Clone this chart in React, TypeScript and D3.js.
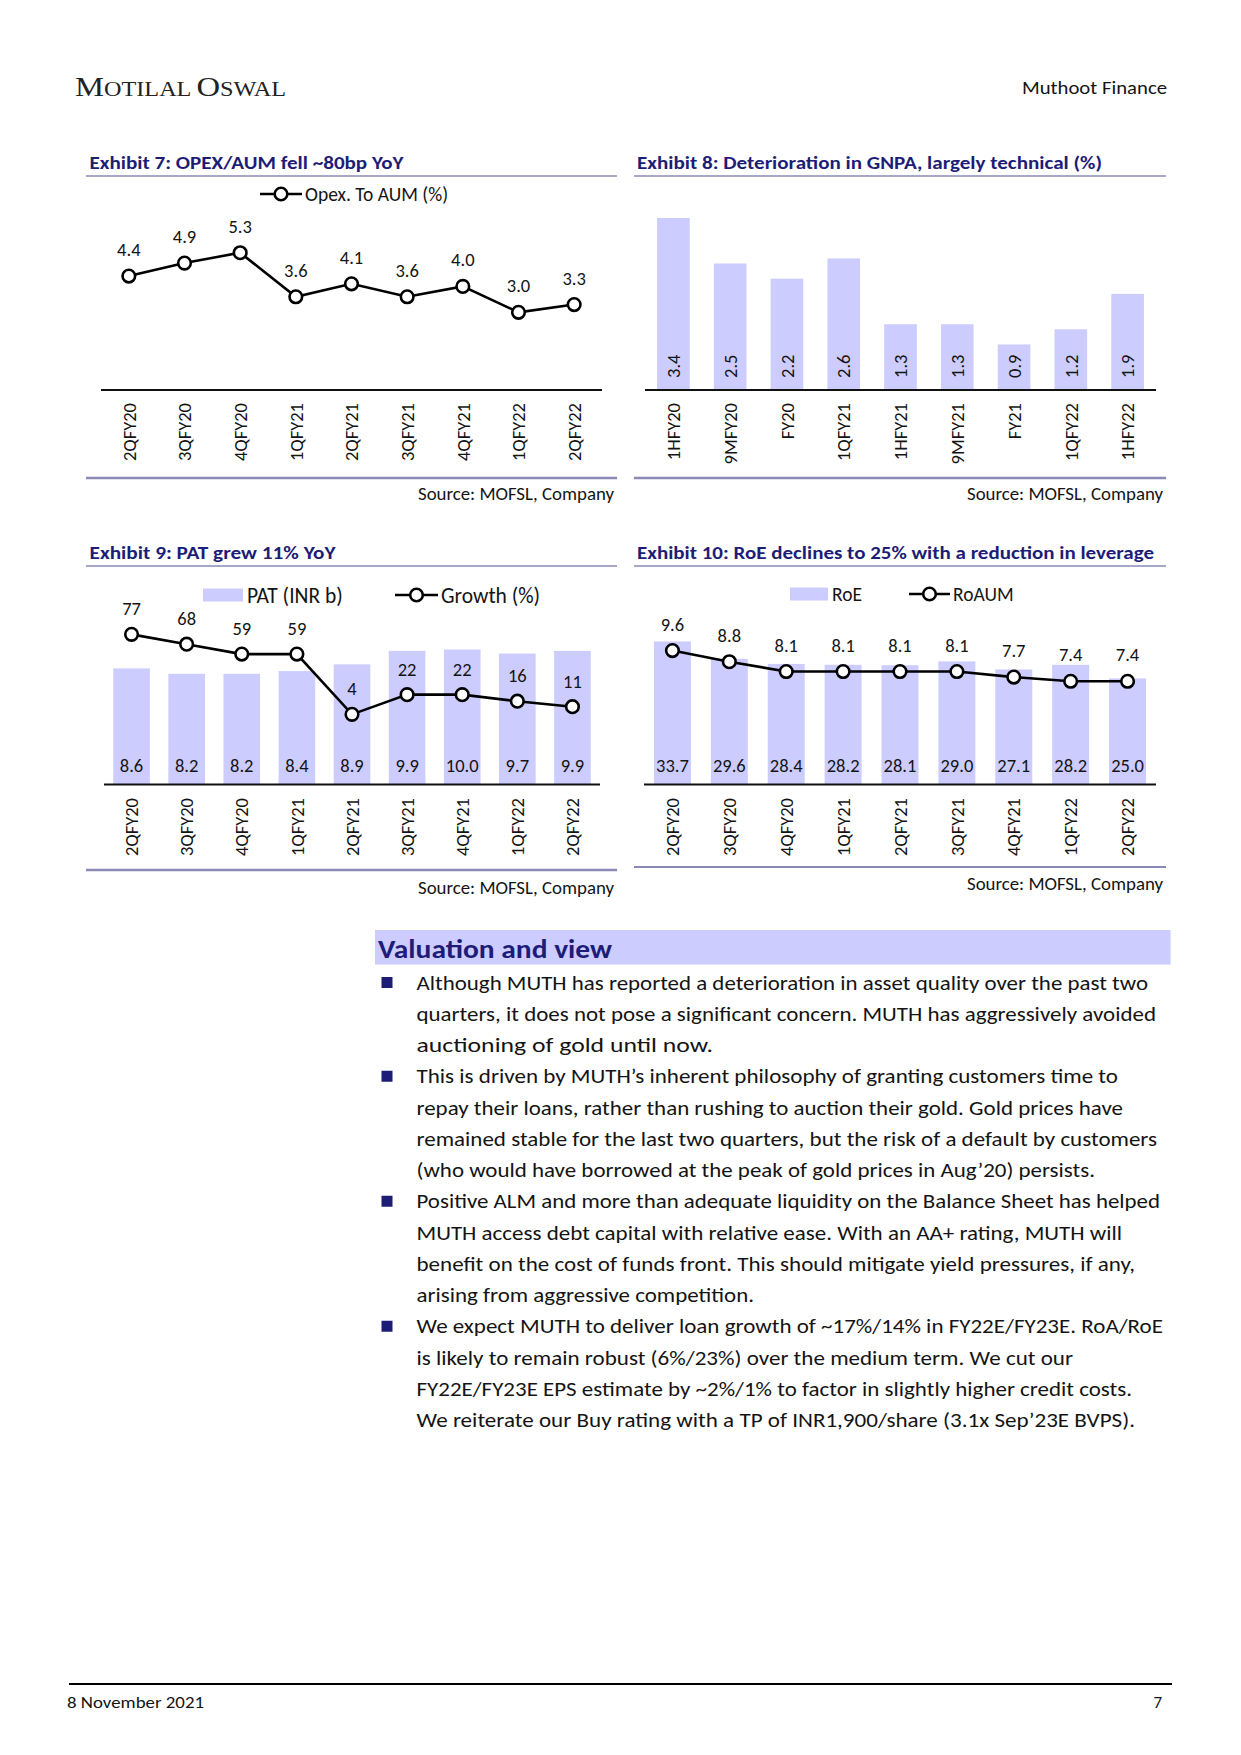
import React from 'react';
import * as d3 from 'd3';

// ---------- data ----------
const quarters = ['2QFY20', '3QFY20', '4QFY20', '1QFY21', '2QFY21', '3QFY21', '4QFY21', '1QFY22', '2QFY22'];
const opexToAum = [4.4, 4.9, 5.3, 3.6, 4.1, 3.6, 4.0, 3.0, 3.3];

const gnpaPeriods = ['1HFY20', '9MFY20', 'FY20', '1QFY21', '1HFY21', '9MFY21', 'FY21', '1QFY22', '1HFY22'];
const gnpa = [3.4, 2.5, 2.2, 2.6, 1.3, 1.3, 0.9, 1.2, 1.9];

const pat = [8.6, 8.2, 8.2, 8.4, 8.9, 9.9, 10.0, 9.7, 9.9];
const patGrowth = [77, 68, 59, 59, 4, 22, 22, 16, 11];

const roe = [33.7, 29.6, 28.4, 28.2, 28.1, 29.0, 27.1, 28.2, 25.0];
const roaum = [9.6, 8.8, 8.1, 8.1, 8.1, 8.1, 7.7, 7.4, 7.4];

const bodyLines = [
  'Although MUTH has reported a deterioration in asset quality over the past two',
  'quarters, it does not pose a significant concern. MUTH has aggressively avoided',
  'auctioning of gold until now.',
  'This is driven by MUTH\u2019s inherent philosophy of granting customers time to',
  'repay their loans, rather than rushing to auction their gold. Gold prices have',
  'remained stable for the last two quarters, but the risk of a default by customers',
  '(who would have borrowed at the peak of gold prices in Aug\u201920) persists.',
  'Positive ALM and more than adequate liquidity on the Balance Sheet has helped',
  'MUTH access debt capital with relative ease. With an AA+ rating, MUTH will',
  'benefit on the cost of funds front. This should mitigate yield pressures, if any,',
  'arising from aggressive competition.',
  'We expect MUTH to deliver loan growth of ~17%/14% in FY22E/FY23E. RoA/RoE',
  'is likely to remain robust (6%/23%) over the medium term. We cut our',
  'FY22E/FY23E EPS estimate by ~2%/1% to factor in slightly higher credit costs.',
  'We reiterate our Buy rating with a TP of INR1,900/share (3.1x Sep\u201923E BVPS).',
];
const bulletLineIdx = [0, 3, 7, 11];

// layout (line right edges, px)
const bodyLineEnds = [1148, 1156, 713, 1118, 1123, 1157, 1095, 1160, 1122, 1135, 754, 1163, 1073, 1132, 1135];

// ---------- style ----------
const FONT = "Carlito, Calibri, Lato, 'Open Sans', sans-serif";
const NAVY = '#1d1d78';
const BAR = '#ccccff';
const RULE = '#8a8ab6';
const INK = '#141414';
const LBL = 18.5;

function fmt1(v: number) {
  return v.toFixed(1);
}

function XTicks({ x, labels, top }: { x: d3.ScaleBand<string>; labels: string[]; top: number }) {
  return (
    <g>
      {labels.map((l) => (
        <text
          key={l}
          transform={`translate(${(x(l) as number) + x.bandwidth() / 2},${top}) rotate(-90)`}
          textAnchor="end"
          dy="0.36em"
          fontSize={LBL}
          fill={INK}
        >
          {l}
        </text>
      ))}
    </g>
  );
}

function Marker({ cx, cy }: { cx: number; cy: number }) {
  return <circle cx={cx} cy={cy} r={6.3} fill="#fff" stroke="#000" strokeWidth={2.6} />;
}

function LegendLine({ x1, x2, y, label, fs }: { x1: number; x2: number; y: number; label: string; fs: number }) {
  return (
    <g>
      <line x1={x1} x2={x2} y1={y} y2={y} stroke="#000" strokeWidth={2.6} />
      <Marker cx={(x1 + x2) / 2} cy={y} />
      <text x={x2 + 3} y={y} dy="0.35em" fontSize={fs} fill={INK}>
        {label}
      </text>
    </g>
  );
}

function LegendBar({ x1, x2, y, label, fs }: { x1: number; x2: number; y: number; label: string; fs: number }) {
  return (
    <g>
      <rect x={x1} y={y - 6.5} width={x2 - x1} height={13} fill={BAR} />
      <text x={x2 + 4} y={y} dy="0.35em" fontSize={fs} fill={INK}>
        {label}
      </text>
    </g>
  );
}

function Title({ x, y, text, len, ulx1, ulx2, uly }: any) {
  return (
    <g>
      <text x={x} y={y} fontSize={18} fontWeight={700} fill={NAVY} textLength={len} lengthAdjust="spacingAndGlyphs">
        {text}
      </text>
      <line x1={ulx1} x2={ulx2} y1={uly} y2={uly} stroke={RULE} strokeWidth={1.6} />
    </g>
  );
}

function Footer({ x1, x2, y, srcY, w = 2.6 }: any) {
  return (
    <g>
      <line x1={x1} x2={x2} y1={y} y2={y} stroke={RULE} strokeWidth={w} />
      <text x={x2 - 3} y={srcY} textAnchor="end" fontSize={18} fill={INK} textLength={196} lengthAdjust="spacingAndGlyphs">
        Source: MOFSL, Company
      </text>
    </g>
  );
}

// Exhibit 7
function Exhibit7() {
  const x = d3.scaleBand<string>().domain(quarters).range([101, 602]);
  const y = d3.scaleLinear().domain([0, 6]).range([390, 390 - 6 * 25.9]);
  const cx = (i: number) => (x(quarters[i]) as number) + x.bandwidth() / 2;
  const line = d3
    .line<number>()
    .x((_, i) => cx(i))
    .y((d) => y(d));
  return (
    <g>
      <Title x={89.5} y={169} text="Exhibit 7: OPEX/AUM fell ~80bp YoY" len={314} ulx1={86} ulx2={617} uly={176} />
      <LegendLine x1={260} x2={302} y={194} label="Opex. To AUM (%)" fs={19.5} />
      <path d={line(opexToAum) as string} fill="none" stroke="#000" strokeWidth={2.6} />
      {opexToAum.map((v, i) => (
        <g key={i}>
          <Marker cx={cx(i)} cy={y(v)} />
          <text x={cx(i)} y={y(v) - 20} textAnchor="middle" fontSize={LBL} fill={INK}>
            {fmt1(v)}
          </text>
        </g>
      ))}
      <line x1={101} x2={602} y1={390} y2={390} stroke="#111" strokeWidth={2} />
      <XTicks x={x} labels={quarters} top={403} />
      <Footer x1={86} x2={617} y={478} srcY={500} />
    </g>
  );
}

// Exhibit 8
function Exhibit8() {
  const x = d3.scaleBand<string>().domain(gnpaPeriods).range([645, 1156]).paddingInner(0.425).paddingOuter(0.2125);
  const y = d3.scaleLinear().domain([0, 4]).range([390, 390 - 4 * 50.6]);
  return (
    <g>
      <Title x={637} y={169} text="Exhibit 8: Deterioration in GNPA, largely technical (%)" len={465} ulx1={634} ulx2={1166} uly={176} />
      {gnpa.map((v, i) => {
        const bx = x(gnpaPeriods[i]) as number;
        return (
          <g key={i}>
            <rect x={bx} y={y(v)} width={x.bandwidth()} height={390 - y(v)} fill={BAR} />
            <text
              transform={`translate(${bx + x.bandwidth() / 2},${378}) rotate(-90)`}
              textAnchor="start"
              dy="0.36em"
              fontSize={LBL}
              fill={INK}
            >
              {fmt1(v)}
            </text>
          </g>
        );
      })}
      <line x1={645} x2={1156} y1={390} y2={390} stroke="#111" strokeWidth={2} />
      <XTicks x={x} labels={gnpaPeriods} top={403} />
      <Footer x1={634} x2={1166} y={478} srcY={500} />
    </g>
  );
}

// Exhibit 9
function Exhibit9() {
  const base = 784.5;
  const x = d3.scaleBand<string>().domain(quarters).range([104, 600]).paddingInner(0.335).paddingOuter(0.1675);
  const yB = d3.scaleLinear().domain([0, 14]).range([base, base - 14 * 13.5]);
  const yL = d3.scaleLinear().domain([-60, 100]).range([base, base - 160 * 1.096]);
  const cx = (i: number) => (x(quarters[i]) as number) + x.bandwidth() / 2;
  const line = d3
    .line<number>()
    .x((_, i) => cx(i))
    .y((d) => yL(d));
  return (
    <g>
      <Title x={89.5} y={559} text="Exhibit 9: PAT grew 11% YoY" len={246} ulx1={86} ulx2={617} uly={566} />
      <LegendBar x1={203} x2={243} y={595} label="PAT (INR b)" fs={21.5} />
      <LegendLine x1={395} x2={438} y={595} label="Growth (%)" fs={21.5} />
      {pat.map((v, i) => (
        <g key={i}>
          <rect x={x(quarters[i])} y={yB(v)} width={x.bandwidth()} height={base - yB(v)} fill={BAR} />
          <text x={cx(i)} y={771.5} textAnchor="middle" fontSize={LBL} fill={INK}>
            {fmt1(v)}
          </text>
        </g>
      ))}
      <path d={line(patGrowth) as string} fill="none" stroke="#000" strokeWidth={2.6} />
      {patGrowth.map((v, i) => (
        <g key={i}>
          <Marker cx={cx(i)} cy={yL(v)} />
          <text x={cx(i)} y={yL(v) - 19} textAnchor="middle" fontSize={LBL} fill={INK}>
            {v}
          </text>
        </g>
      ))}
      <line x1={104} x2={600} y1={base} y2={base} stroke="#111" strokeWidth={2} />
      <XTicks x={x} labels={quarters} top={798} />
      <Footer x1={86} x2={617} y={870} srcY={894} />
    </g>
  );
}

// Exhibit 10
function Exhibit10() {
  const base = 784.5;
  const x = d3.scaleBand<string>().domain(quarters).range([644, 1156]).paddingInner(0.35).paddingOuter(0.175);
  const yB = d3.scaleLinear().domain([0, 40]).range([base, base - 40 * 4.245]);
  const yL = d3.scaleLinear().domain([0, 12]).range([base, base - 12 * 13.95]);
  const cx = (i: number) => (x(quarters[i]) as number) + x.bandwidth() / 2;
  const line = d3
    .line<number>()
    .x((_, i) => cx(i))
    .y((d) => yL(d));
  return (
    <g>
      <Title x={637} y={559} text="Exhibit 10: RoE declines to 25% with a reduction in leverage" len={517} ulx1={634} ulx2={1166} uly={566} />
      <LegendBar x1={790} x2={828} y={594} label="RoE" fs={19.5} />
      <LegendLine x1={909} x2={950} y={594} label="RoAUM" fs={19.5} />
      {roe.map((v, i) => (
        <g key={i}>
          <rect x={x(quarters[i])} y={yB(v)} width={x.bandwidth()} height={base - yB(v)} fill={BAR} />
          <text x={cx(i)} y={771.5} textAnchor="middle" fontSize={LBL} fill={INK}>
            {fmt1(v)}
          </text>
        </g>
      ))}
      <path d={line(roaum) as string} fill="none" stroke="#000" strokeWidth={2.6} />
      {roaum.map((v, i) => (
        <g key={i}>
          <Marker cx={cx(i)} cy={yL(v)} />
          <text x={cx(i)} y={yL(v) - 20} textAnchor="middle" fontSize={LBL} fill={INK}>
            {fmt1(v)}
          </text>
        </g>
      ))}
      <line x1={644} x2={1156} y1={base} y2={base} stroke="#111" strokeWidth={2} />
      <XTicks x={x} labels={quarters} top={798} />
      <Footer x1={634} x2={1166} y={867} srcY={890} w={1.8} />
    </g>
  );
}

function Valuation() {
  const x0 = 416.5;
  const y0 = 989.5;
  const lh = 31.25;
  return (
    <g>
      <rect x={375} y={930} width={795.6} height={34.6} fill={BAR} />
      <text x={378} y={958} fontSize={26} fontWeight={700} fill={NAVY} textLength={234} lengthAdjust="spacingAndGlyphs">
        Valuation and view
      </text>
      {bulletLineIdx.map((li) => (
        <rect key={li} x={381.5} y={y0 + li * lh - 12.5} width={11} height={11} fill={NAVY} />
      ))}
      {bodyLines.map((t, i) => (
        <text
          key={i}
          x={x0}
          y={y0 + i * lh}
          fontSize={21}
          fill={INK}
          textLength={bodyLineEnds[i] - x0}
          lengthAdjust="spacingAndGlyphs"
        >
          {t}
        </text>
      ))}
    </g>
  );
}

export default function App() {
  return (
    <svg
      width={1241}
      height={1755}
      viewBox="0 0 1241 1755"
      style={{ position: 'absolute', left: 0, top: 0, background: '#fff' }}
      fontFamily={FONT}
    >
      <rect width={1241} height={1755} fill="#fff" />
      {/* header */}
      <text
        x={75}
        y={96}
        fontFamily="'Liberation Serif', 'DejaVu Serif', serif"
        fontSize={27}
        fill="#222"
        textLength={211}
        lengthAdjust="spacingAndGlyphs"
      >
        <tspan>M</tspan>
        <tspan fontSize={20}>OTILAL </tspan>
        <tspan>O</tspan>
        <tspan fontSize={20}>SWAL</tspan>
      </text>
      <text x={1167} y={94} textAnchor="end" fontSize={18} fill={INK} textLength={145} lengthAdjust="spacingAndGlyphs">
        Muthoot Finance
      </text>

      <Exhibit7 />
      <Exhibit8 />
      <Exhibit9 />
      <Exhibit10 />
      <Valuation />

      {/* page footer */}
      <line x1={69} x2={1172} y1={1684} y2={1684} stroke="#000" strokeWidth={1.8} />
      <text x={67} y={1708} fontSize={17} fill={INK} textLength={137} lengthAdjust="spacingAndGlyphs">
        8 November 2021
      </text>
      <text x={1162} y={1708} textAnchor="end" fontSize={17} fill={INK}>
        7
      </text>
    </svg>
  );
}
